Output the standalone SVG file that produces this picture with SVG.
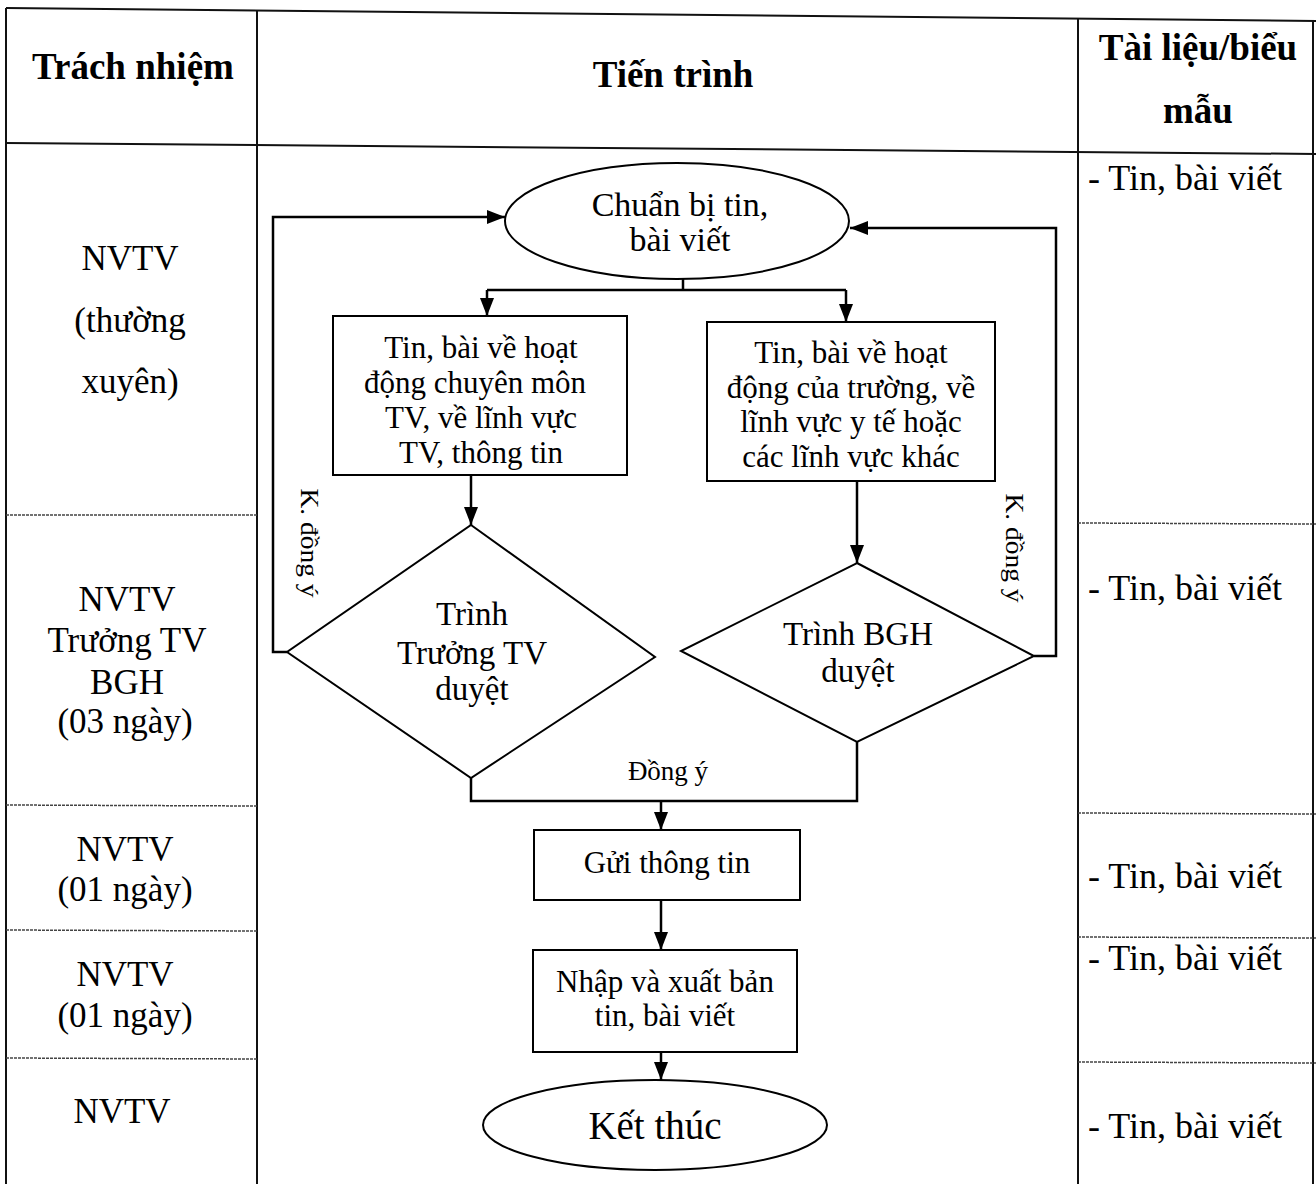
<svg xmlns="http://www.w3.org/2000/svg" width="1316" height="1184" viewBox="0 0 1316 1184">
<defs>
<marker id="ah" markerUnits="userSpaceOnUse" markerWidth="18" markerHeight="14" refX="18" refY="7" viewBox="0 0 18 14" orient="auto">
<path d="M0,0 L18,7 L0,14 Z" fill="#000"/>
</marker>
<style>
.tbl{stroke:#111;stroke-width:2;fill:none}
.row{stroke:#444;stroke-width:1.5;fill:none;stroke-dasharray:3 1}
.shape{stroke:#000;stroke-width:2;fill:#fff}
.con{stroke:#000;stroke-width:2.5;fill:none}
text{font-family:"Liberation Serif","Times New Roman",serif;fill:#000}
.hd{font-weight:bold;font-size:37px;text-anchor:middle}
.lc{font-size:35px;text-anchor:middle}
.rc{font-size:36px}
.bx{font-size:31px;text-anchor:middle}
.el{font-size:34px;text-anchor:middle}
.dm{font-size:33px;text-anchor:middle}
.end{font-size:39px;text-anchor:middle}
.lbl{font-size:27px;text-anchor:middle}
.rot{font-size:25px;text-anchor:middle}
</style>
</defs>
<rect width="1316" height="1184" fill="#fff"/>
<g id="table">
<line class="tbl" x1="6" y1="8" x2="1316" y2="21"/>
<line class="tbl" x1="6" y1="143" x2="1316" y2="154"/>
<line class="tbl" x1="6" y1="8" x2="6" y2="1184"/>
<line class="tbl" x1="257" y1="10" x2="257" y2="1184"/>
<line class="tbl" x1="1078" y1="18" x2="1078" y2="1184"/>
<line class="tbl" x1="1313" y1="20" x2="1313" y2="1184"/>
<line class="row" x1="6" y1="515" x2="257" y2="515"/>
<line class="row" x1="6" y1="805" x2="257" y2="806"/>
<line class="row" x1="6" y1="930" x2="257" y2="931"/>
<line class="row" x1="6" y1="1058" x2="257" y2="1059"/>
<line class="row" x1="1078" y1="523" x2="1316" y2="524"/>
<line class="row" x1="1078" y1="813" x2="1316" y2="814"/>
<line class="row" x1="1078" y1="937" x2="1316" y2="938"/>
<line class="row" x1="1078" y1="1062" x2="1316" y2="1063"/>
</g>
<g id="connectors">
<path class="con" d="M683,279 V290"/>
<path class="con" d="M487,290 H846"/>
<path class="con" d="M487,290 V316" marker-end="url(#ah)"/>
<path class="con" d="M846,290 V322" marker-end="url(#ah)"/>
<path class="con" d="M471,475 V525" marker-end="url(#ah)"/>
<path class="con" d="M857,481 V563" marker-end="url(#ah)"/>
<path class="con" d="M287,652 H273 V217 H505" marker-end="url(#ah)"/>
<path class="con" d="M1034,656 H1056 V228 H850" marker-end="url(#ah)"/>
<path class="con" d="M471,778 V801 H857 V742"/>
<path class="con" d="M661,801 V830" marker-end="url(#ah)"/>
<path class="con" d="M661,900 V950" marker-end="url(#ah)"/>
<path class="con" d="M661,1052 V1080" marker-end="url(#ah)"/>
<text class="rot" transform="translate(301,543) rotate(90) scale(1.1,1)">K. đồng ý</text>
<text class="rot" transform="translate(1006,548) rotate(90) scale(1.1,1)">K. đồng ý</text>
<text class="lbl" x="668" y="780">Đồng ý</text>
</g>
<g id="start"><ellipse class="shape" cx="677" cy="221" rx="172" ry="58"/>
<text class="el" x="680" y="216">Chuẩn bị tin,</text>
<text class="el" x="680" y="251">bài viết</text></g>
<g id="box-tv"><rect class="shape" x="333" y="316" width="294" height="159"/>
<text class="bx" x="481" y="358">Tin, bài về hoạt</text>
<text class="bx" x="475" y="393">động chuyên môn</text>
<text class="bx" x="481" y="428">TV, về lĩnh vực</text>
<text class="bx" x="481" y="463">TV, thông tin</text></g>
<g id="box-truong"><rect class="shape" x="707" y="322" width="288" height="159"/>
<text class="bx" x="851" y="363">Tin, bài về hoạt</text>
<text class="bx" x="851" y="398">động của trường, về</text>
<text class="bx" x="851" y="432">lĩnh vực y tế hoặc</text>
<text class="bx" x="851" y="467">các lĩnh vực khác</text></g>
<g id="dec-tv"><polygon class="shape" points="471,525 655,657 471,778 287,652"/>
<text class="dm" x="472" y="625">Trình</text>
<text class="dm" x="472" y="664">Trưởng TV</text>
<text class="dm" x="472" y="700">duyệt</text></g>
<g id="dec-bgh"><polygon class="shape" points="857,563 1034,656 857,742 681,651"/>
<text class="dm" x="858" y="645">Trình BGH</text>
<text class="dm" x="858" y="682">duyệt</text></g>
<g id="box-send"><rect class="shape" x="534" y="830" width="266" height="70"/>
<text class="bx" x="667" y="873">Gửi thông tin</text></g>
<g id="box-publish"><rect class="shape" x="533" y="950" width="264" height="102"/>
<text class="bx" x="665" y="992">Nhập và xuất bản</text>
<text class="bx" x="665" y="1026">tin, bài viết</text></g>
<g id="end"><ellipse class="shape" cx="655" cy="1125" rx="172" ry="45"/>
<text class="end" x="655" y="1139">Kết thúc</text></g>
<g id="header">
<text class="hd" x="133" y="79">Trách nhiệm</text>
<text class="hd" x="673" y="87">Tiến trình</text>
<text class="hd" x="1198" y="60">Tài liệu/biểu</text>
<text class="hd" x="1198" y="123">mẫu</text>
</g>
<g id="responsibility">
<text class="lc" x="130" y="270">NVTV</text>
<text class="lc" x="130" y="332">(thường</text>
<text class="lc" x="130" y="393">xuyên)</text>
<text class="lc" x="127" y="611">NVTV</text>
<text class="lc" x="127" y="652">Trưởng TV</text>
<text class="lc" x="127" y="694">BGH</text>
<text class="lc" x="125" y="733">(03 ngày)</text>
<text class="lc" x="125" y="861">NVTV</text>
<text class="lc" x="125" y="901">(01 ngày)</text>
<text class="lc" x="125" y="986">NVTV</text>
<text class="lc" x="125" y="1027">(01 ngày)</text>
<text class="lc" x="122" y="1123">NVTV</text>
</g>
<g id="documents">
<text class="rc" x="1088" y="190">- Tin, bài viết</text>
<text class="rc" x="1088" y="600">- Tin, bài viết</text>
<text class="rc" x="1088" y="888">- Tin, bài viết</text>
<text class="rc" x="1088" y="970">- Tin, bài viết</text>
<text class="rc" x="1088" y="1138">- Tin, bài viết</text>
</g>
</svg>
